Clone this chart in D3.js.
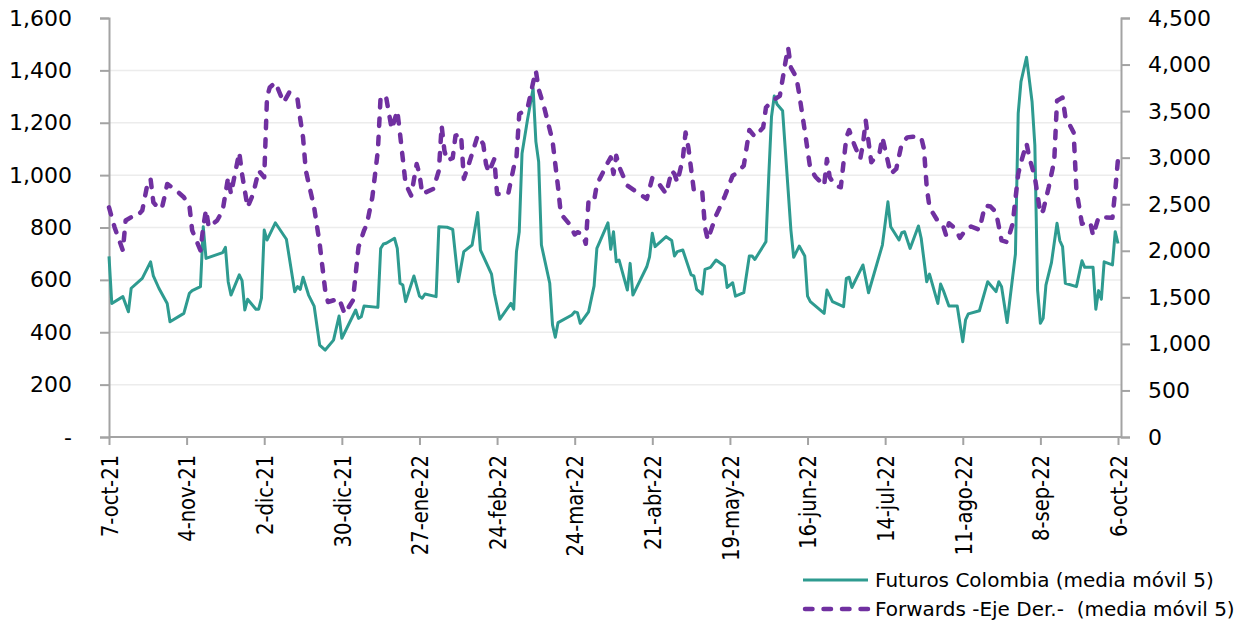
<!DOCTYPE html>
<html>
<head>
<meta charset="utf-8">
<script src="https://cdn.jsdelivr.net/npm/d3@7"></script>
<style>
  body { margin: 0; background: #fff; }
  svg text { font-family: "DejaVu Sans", Verdana, sans-serif; fill: #000; }
</style>
</head>
<body>
<svg id="chart" width="1245" height="623"></svg>
<script>
// Futuros Colombia, 5-day moving average (left axis)
const futDates = [
  "2021-10-07","2021-10-08","2021-10-12","2021-10-14","2021-10-15","2021-10-19","2021-10-22","2021-10-23","2021-10-25","2021-10-28",
  "2021-10-29","2021-11-03","2021-11-05","2021-11-06","2021-11-09","2021-11-10","2021-11-11","2021-11-17","2021-11-18","2021-11-19",
  "2021-11-20","2021-11-23","2021-11-24","2021-11-25","2021-11-26","2021-11-29","2021-11-30","2021-12-01","2021-12-02","2021-12-03",
  "2021-12-06","2021-12-10","2021-12-13","2021-12-14","2021-12-15","2021-12-16","2021-12-18","2021-12-20","2021-12-22","2021-12-24",
  "2021-12-27","2021-12-29","2021-12-30","2022-01-04","2022-01-05","2022-01-06","2022-01-07","2022-01-12","2022-01-13","2022-01-14",
  "2022-01-15","2022-01-18","2022-01-19","2022-01-20","2022-01-21","2022-01-22","2022-01-25","2022-01-27","2022-01-28","2022-01-29",
  "2022-02-02","2022-02-03","2022-02-06","2022-02-08","2022-02-10","2022-02-12","2022-02-15","2022-02-17","2022-02-18","2022-02-22",
  "2022-02-23","2022-02-25","2022-03-01","2022-03-02","2022-03-03","2022-03-04","2022-03-05","2022-03-07","2022-03-09","2022-03-10",
  "2022-03-11","2022-03-12","2022-03-15","2022-03-16","2022-03-17","2022-03-18","2022-03-23","2022-03-24","2022-03-25","2022-03-26",
  "2022-03-29","2022-03-31","2022-04-01","2022-04-05","2022-04-06","2022-04-07","2022-04-08","2022-04-09","2022-04-12","2022-04-13",
  "2022-04-14","2022-04-19","2022-04-20","2022-04-21","2022-04-22","2022-04-26","2022-04-28","2022-04-29","2022-04-30","2022-05-02",
  "2022-05-05","2022-05-06","2022-05-07","2022-05-09","2022-05-10","2022-05-12","2022-05-14","2022-05-17","2022-05-18","2022-05-20",
  "2022-05-21","2022-05-24","2022-05-26","2022-05-27","2022-05-28","2022-06-01","2022-06-02","2022-06-03","2022-06-04","2022-06-05",
  "2022-06-07","2022-06-09","2022-06-10","2022-06-11","2022-06-13","2022-06-15","2022-06-16","2022-06-17","2022-06-22","2022-06-23",
  "2022-06-25","2022-06-29","2022-06-30","2022-07-01","2022-07-02","2022-07-06","2022-07-08","2022-07-13","2022-07-15","2022-07-16",
  "2022-07-19","2022-07-20","2022-07-21","2022-07-23","2022-07-26","2022-07-27","2022-07-29","2022-07-30","2022-08-02","2022-08-03",
  "2022-08-04","2022-08-06","2022-08-09","2022-08-11","2022-08-12","2022-08-13","2022-08-17","2022-08-20","2022-08-23","2022-08-24",
  "2022-08-25","2022-08-27","2022-08-30","2022-08-31","2022-09-01","2022-09-03","2022-09-05","2022-09-06","2022-09-07","2022-09-08",
  "2022-09-09","2022-09-10","2022-09-12","2022-09-14","2022-09-15","2022-09-16","2022-09-17","2022-09-21","2022-09-23","2022-09-24",
  "2022-09-27","2022-09-28","2022-09-29","2022-09-30","2022-10-01","2022-10-04","2022-10-05","2022-10-06"
];
const futValues = [
  690,510,536,478,568,606,669,615,568,510,
  440,472,549,559,574,803,682,704,724,593,
  542,619,597,485,526,488,488,530,790,752,
  818,755,555,574,564,610,542,500,351,332,
  370,462,377,485,453,459,500,495,720,737,
  740,759,720,587,580,517,615,538,530,546,
  536,803,801,793,593,708,733,857,714,622,
  549,450,510,488,708,784,1083,1213,1331,1128,
  1051,733,587,428,381,437,466,478,475,434,
  478,577,720,818,717,784,669,676,561,663,
  542,650,688,778,727,765,750,691,708,714,
  619,615,564,546,640,648,676,653,571,589,
  538,551,691,691,678,746,994,1223,1302,1271,
  1246,943,790,686,729,691,538,517,472,561,
  517,498,606,610,571,657,551,733,898,803,
  752,780,784,720,806,759,593,622,510,584,
  559,500,500,364,447,470,482,593,555,593,
  574,437,699,1236,1357,1450,1280,1115,561,434,
  453,580,666,816,750,727,587,574,673,648,
  648,488,559,526,669,657,784,739
];

// Forwards, 5-day moving average (right axis)
const fwdDates = [
  "2021-10-07","2021-10-09","2021-10-12","2021-10-13","2021-10-15","2021-10-17","2021-10-19","2021-10-21","2021-10-22","2021-10-23",
  "2021-10-24","2021-10-26","2021-10-27","2021-10-28","2021-10-31","2021-11-03","2021-11-05","2021-11-06","2021-11-09","2021-11-10",
  "2021-11-11","2021-11-12","2021-11-15","2021-11-17","2021-11-19","2021-11-20","2021-11-23","2021-11-24","2021-11-26","2021-11-28",
  "2021-11-30","2021-12-02","2021-12-03","2021-12-04","2021-12-06","2021-12-09","2021-12-11","2021-12-14","2021-12-15","2021-12-16",
  "2021-12-17","2021-12-20","2021-12-22","2021-12-24","2021-12-25","2021-12-29","2021-12-31","2022-01-03","2022-01-05","2022-01-07",
  "2022-01-08","2022-01-10","2022-01-12","2022-01-13","2022-01-15","2022-01-17","2022-01-19","2022-01-20","2022-01-22","2022-01-24",
  "2022-01-26","2022-01-27","2022-01-28","2022-02-01","2022-02-03","2022-02-04","2022-02-05","2022-02-06","2022-02-08","2022-02-09",
  "2022-02-11","2022-02-12","2022-02-14","2022-02-17","2022-02-19","2022-02-20","2022-02-21","2022-02-23","2022-02-24","2022-02-28",
  "2022-03-02","2022-03-03","2022-03-04","2022-03-07","2022-03-09","2022-03-10","2022-03-11","2022-03-13","2022-03-16","2022-03-18",
  "2022-03-19","2022-03-22","2022-03-24","2022-03-25","2022-03-27","2022-03-28","2022-03-29","2022-03-31","2022-04-01","2022-04-05",
  "2022-04-06","2022-04-07","2022-04-08","2022-04-09","2022-04-12","2022-04-19","2022-04-21","2022-04-23","2022-04-26","2022-04-28",
  "2022-04-29","2022-04-30","2022-05-02","2022-05-03","2022-05-04","2022-05-06","2022-05-09","2022-05-10","2022-05-11","2022-05-14",
  "2022-05-17","2022-05-20","2022-05-21","2022-05-24","2022-05-26","2022-05-28","2022-05-31","2022-06-01","2022-06-03","2022-06-06",
  "2022-06-08","2022-06-09","2022-06-10","2022-06-12","2022-06-13","2022-06-15","2022-06-17","2022-06-19","2022-06-22","2022-06-23",
  "2022-06-24","2022-06-26","2022-06-28","2022-06-30","2022-07-01","2022-07-03","2022-07-05","2022-07-06","2022-07-07","2022-07-09",
  "2022-07-10","2022-07-12","2022-07-13","2022-07-16","2022-07-18","2022-07-20","2022-07-22","2022-07-24","2022-07-27","2022-07-28",
  "2022-07-29","2022-07-30","2022-08-02","2022-08-04","2022-08-05","2022-08-06","2022-08-08","2022-08-10","2022-08-12","2022-08-14",
  "2022-08-17","2022-08-19","2022-08-21","2022-08-23","2022-08-25","2022-08-27","2022-08-29","2022-08-31","2022-09-01","2022-09-03",
  "2022-09-04","2022-09-06","2022-09-08","2022-09-09","2022-09-11","2022-09-13","2022-09-14","2022-09-15","2022-09-16","2022-09-17",
  "2022-09-20","2022-09-21","2022-09-23","2022-09-26","2022-09-27","2022-09-29","2022-10-04","2022-10-05","2022-10-06"
];
const fwdValues = [
  2467,2253,2004,2325,2361,2368,2432,2736,2772,2521,
  2486,2450,2575,2718,2654,2575,2486,2218,2004,2253,
  2440,2253,2325,2432,2790,2611,3057,2825,2467,2611,
  2861,2790,3646,3754,3807,3593,3700,3629,3414,3218,
  2861,2467,2075,1575,1450,1486,1325,1468,2039,2218,
  2282,2575,3075,3664,3646,3307,3504,3254,2718,2593,
  2932,2825,2611,2664,2861,3343,3075,2968,2997,3236,
  3254,2772,2950,3236,3147,2932,2843,2986,2611,2611,
  2896,3003,3468,3532,3807,3932,3736,3539,3182,2682,
  2397,2290,2175,2200,2175,2075,2539,2539,2711,2950,
  3003,2825,3021,2904,2700,2557,2782,2736,2611,2861,
  2825,2736,2986,3271,3111,2646,2639,2253,2118,2379,
  2575,2807,2825,2914,3297,3225,3325,3539,3604,3664,
  4021,4182,3968,3861,3682,3289,2879,2790,2700,2986,
  2790,2700,2682,3218,3297,3129,2986,3146,3396,2950,
  2986,3057,3218,2825,2879,3154,3218,3225,3218,3093,
  2682,2467,2318,2261,2164,2296,2246,2139,2225,2261,
  2225,2486,2475,2414,2111,2093,2290,2825,2950,3154,
  3003,2790,2397,2432,2682,2968,3611,3629,3646,3440,
  3271,2650,2290,2307,2164,2361,2354,2646,2986
];

// Axis ticks and labels
const xTickDates = ["2021-10-07","2021-11-04","2021-12-02","2021-12-30","2022-01-27","2022-02-24","2022-03-24",
                    "2022-04-21","2022-05-19","2022-06-16","2022-07-14","2022-08-11","2022-09-08","2022-10-06"];
const xTickLabels = ["7-oct-21","4-nov-21","2-dic-21","30-dic-21","27-ene-22","24-feb-22","24-mar-22",
                     "21-abr-22","19-may-22","16-jun-22","14-jul-22","11-ago-22","8-sep-22","6-oct-22"];
const leftTicks = [0, 200, 400, 600, 800, 1000, 1200, 1400, 1600];
const rightTicks = [0, 500, 1000, 1500, 2000, 2500, 3000, 3500, 4000, 4500];
const seriesNames = ["Futuros Colombia (media móvil 5)", "Forwards -Eje Der.-  (media móvil 5)"];

const TEAL = "#2e9b90";
const PURPLE = "#7030a0";
const AXIS = "#a3a3a3";

const parseDate = d3.timeParse("%Y-%m-%d");
const svg = d3.select("#chart");

const plotLeft = 109, plotRight = 1121, plotTop = 18, plotBottom = 437;

const x = d3.scaleTime()
  .domain([parseDate(xTickDates[0]), parseDate(xTickDates[xTickDates.length - 1])])
  .range([plotLeft, 1118]);
const yL = d3.scaleLinear().domain([0, 1600]).range([plotBottom, plotTop]);
const yR = d3.scaleLinear().domain([0, 4500]).range([plotBottom, plotTop]);

// horizontal gridlines (none at the top edge)
svg.append("g")
  .selectAll("line")
  .data(leftTicks.filter(d => d > 0 && d < 1600))
  .join("line")
  .attr("x1", plotLeft).attr("x2", plotRight)
  .attr("y1", d => yL(d)).attr("y2", d => yL(d))
  .attr("stroke", "#ececec").attr("stroke-width", 1.5);

// left axis
const gL = svg.append("g").attr("transform", `translate(${plotLeft},0)`)
  .call(d3.axisLeft(yL).tickValues(leftTicks).tickSize(9).tickPadding(28)
    .tickFormat(d => d === 0 ? "-" : d3.format(",")(d)));
// right axis
const gR = svg.append("g").attr("transform", `translate(${plotRight},0)`)
  .call(d3.axisRight(yR).tickValues(rightTicks).tickSize(9).tickPadding(18)
    .tickFormat(d3.format(",")));
// bottom axis
const gX = svg.append("g").attr("transform", `translate(0,${plotBottom})`)
  .call(d3.axisBottom(x).tickValues(xTickDates.map(parseDate)).tickSize(8)
    .tickFormat((d, i) => xTickLabels[i]));
gX.select(".domain").attr("d", `M${plotLeft},0H${plotRight}`);

[gL, gR, gX].forEach(g => {
  g.select(".domain").attr("stroke", AXIS).attr("stroke-width", 2);
  g.selectAll(".tick line").attr("stroke", AXIS).attr("stroke-width", 2);
  g.selectAll("text").attr("font-family", "DejaVu Sans, Verdana, sans-serif")
    .attr("font-size", 22).attr("fill", "#000");
});
// date labels: vertical, slightly condensed along the reading direction
gX.selectAll("text")
  .attr("font-size", 23)
  .attr("transform", "rotate(-90) scale(0.85,1)")
  .attr("text-anchor", "end")
  .attr("x", -18 / 0.85).attr("y", 0).attr("dy", "0.36em");

// series lines
const futData = futDates.map((d, i) => ({ date: parseDate(d), value: futValues[i] }));
const fwdData = fwdDates.map((d, i) => ({ date: parseDate(d), value: fwdValues[i] }));

svg.append("path")
  .datum(futData)
  .attr("fill", "none").attr("stroke", TEAL).attr("stroke-width", 3)
  .attr("stroke-linejoin", "round")
  .attr("d", d3.line().x(d => x(d.date)).y(d => yL(d.value)));

svg.append("path")
  .datum(fwdData)
  .attr("fill", "none").attr("stroke", PURPLE).attr("stroke-width", 4.5)
  .attr("stroke-linejoin", "round").attr("stroke-linecap", "round")
  .attr("stroke-dasharray", "7.5 11")
  .attr("d", d3.line().x(d => x(d.date)).y(d => yR(d.value)));

// legend
const legend = svg.append("g").attr("transform", "translate(803,0)");
const rows = [
  { name: seriesNames[0], color: TEAL, width: 3, dash: null, y: 580 },
  { name: seriesNames[1], color: PURPLE, width: 4.5, dash: "7.5 11", y: 609 }
];
rows.forEach(r => {
  legend.append("line")
    .attr("x1", r.dash ? 2 : 0).attr("x2", 65).attr("y1", r.y).attr("y2", r.y)
    .attr("stroke", r.color).attr("stroke-width", r.width)
    .attr("stroke-linecap", r.dash ? "round" : "butt")
    .attr("stroke-dasharray", r.dash);
  legend.append("text")
    .attr("x", 72).attr("y", r.y).attr("dy", "0.36em")
    .attr("font-size", 20)
    .style("white-space", "pre")
    .text(r.name);
});
</script>
</body>
</html>
